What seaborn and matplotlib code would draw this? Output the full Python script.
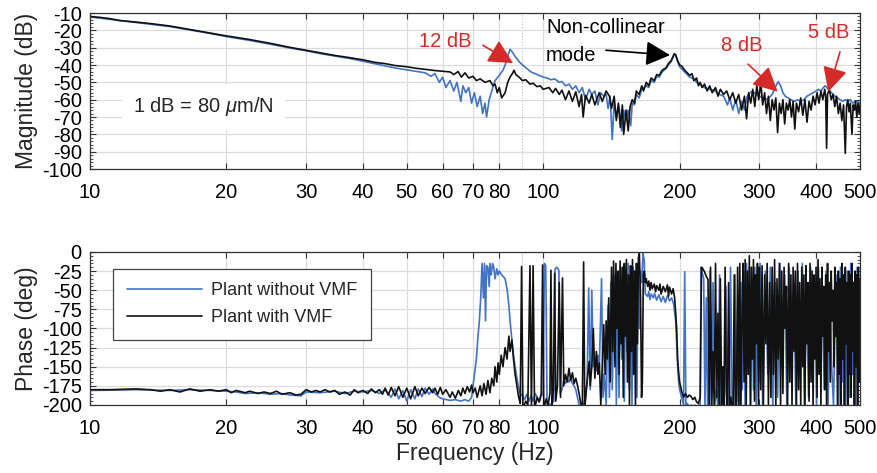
import matplotlib
matplotlib.use("Agg")
import matplotlib.pyplot as plt
import seaborn as sns
from matplotlib.ticker import FixedLocator, FixedFormatter, MultipleLocator, NullLocator

# ---------------- data (frequency Hz, value) ----------------
mag_blue = [
    (10, -12.3), (12.6, -15.4), (15, -17.8), (16.6, -19.8), (18.4, -21.8), (20, -23.6),
    (22.5, -25.8), (25, -28), (27.6, -30.2), (30, -31.8), (32.2, -33.4), (34.7, -34.8),
    (37.5, -36.3), (40, -37.8), (42.6, -39.3), (44.8, -40.5), (47.1, -41.7), (50, -42.8),
    (52.1, -43.5), (54.9, -44.5), (56.5, -46.5), (57.7, -45), (59, -50), (60, -47),
    (61, -53), (62.3, -49), (63.5, -55), (64.5, -50), (65.8, -61), (66.5, -52), (67.5, -56),
    (68.5, -53), (69.5, -62), (70.5, -56), (71.5, -64), (72.6, -58), (73.5, -68), (74.4, -62),
    (75, -70), (76, -60), (77, -55), (78.3, -49), (80, -46), (81.5, -43), (82.4, -40),
    (83.5, -35), (84.5, -31), (85.5, -32.5), (86.7, -35), (88.8, -38.5), (90, -40), (92, -42),
    (94, -44), (96.9, -45.5), (100, -47), (102, -47.5), (104, -48.5), (106, -48), (108.5, -50),
    (110, -49.5), (112, -52), (114, -51), (116, -54), (118, -52), (120, -56), (122, -53),
    (124, -60), (126.3, -54), (128, -57), (130, -55), (132, -63), (134, -56), (136, -58),
    (137.7, -57), (139, -65), (140.5, -58), (142, -83), (143.4, -62), (145, -70), (147, -64),
    (149, -78), (150.5, -66), (152.4, -72), (154, -66), (156, -75), (157.2, -62), (159, -63),
    (160.5, -57), (162.8, -59), (165, -54), (168.8, -52), (171, -53), (173, -49), (175.8, -50),
    (178, -46.5), (180.3, -47), (183, -44), (186.8, -42), (189, -40), (191.6, -38), (194.6, -34),
    (196, -34.5), (198, -38), (200, -41), (205.2, -44), (210.5, -47), (215, -48), (218, -50),
    (222, -51), (227, -53), (233, -54), (240, -55), (245, -57), (250, -58), (255, -63),
    (258, -59), (262, -66), (266, -60), (270, -68), (274, -61), (278, -66), (282, -58),
    (286, -56), (290, -55), (295, -57), (300, -58), (305, -59), (310, -60), (315, -59),
    (320, -57), (325, -53), (330, -49.5), (334, -52), (338, -56), (342, -58), (347, -59),
    (352, -60), (358, -61), (364, -60), (370, -61), (376, -60), (382, -58), (388, -57),
    (394, -56), (400, -55), (405, -54), (410, -55), (415, -53), (419, -52), (423, -53),
    (428, -55), (433, -56), (440, -58), (446, -59), (452, -60), (458, -61), (464, -60),
    (470, -61), (476, -60), (482, -62), (488, -61), (494, -61), (500, -62),
]

mag_black = [
    (10, -12), (10.5, -12.5), (11.1, -13.3), (11.6, -14.3), (12.6, -15.2), (13.6, -16.1),
    (15.0, -17.5), (16.6, -19.5), (18.4, -21.5), (20, -23.2), (22.5, -25.3), (25, -27.5),
    (27.6, -29.8), (30, -31.5), (32.2, -33), (34.7, -34.5), (37.5, -35.8), (40, -37),
    (42.6, -38.5), (44.8, -39.2), (47.1, -40.3), (50, -41), (52.1, -41.8), (54.9, -42.5),
    (57.7, -43.2), (60, -43.6), (62.3, -44), (63.5, -45.5), (64.9, -43.8), (66, -47),
    (67.2, -44.5), (68.5, -47.5), (70, -46.5), (71.2, -49), (72.6, -48), (74.4, -50),
    (76.3, -49), (77.5, -52), (78.3, -51), (79.2, -56), (80, -53), (81, -59), (82.4, -56),
    (83.5, -50), (84.5, -47), (85.5, -45), (86.2, -43), (87, -45.5), (88.5, -47), (90, -49),
    (91.5, -48.5), (93.5, -51), (95, -50.5), (96.9, -52.5), (98.5, -52), (100, -54), (103, -53),
    (105, -56), (106.5, -53.5), (108.5, -57), (110, -54.5), (112, -60), (114, -55), (116, -61),
    (118, -55.5), (120, -64), (121.5, -57), (122.5, -70), (124, -57.5), (126.3, -62), (128, -57),
    (130, -63), (132.9, -56), (135, -61), (137.7, -55), (140, -58), (141.5, -65), (143.4, -58),
    (145, -72), (146.5, -62), (148, -76), (149.5, -63), (150.5, -80), (152.4, -66), (154, -78),
    (155.5, -64), (157.2, -60), (159, -62), (160.5, -55), (162.8, -57), (165, -52), (166.5, -55),
    (168.8, -50), (171, -52), (173, -47.5), (175.8, -49), (178, -45.5), (180.3, -46), (183, -43),
    (186.8, -41.5), (189, -39), (191.6, -37.5), (194.6, -33.5), (196, -34), (198, -37.5),
    (200, -40), (202, -40.5), (205.2, -43), (207, -44), (210.5, -46), (213, -45), (215, -49),
    (218, -47.5), (220, -52), (222, -50), (224.2, -53), (227, -51), (230, -55), (233, -52),
    (236, -56), (240, -53), (243, -58), (246, -54), (250, -57), (254, -55), (258, -60),
    (262, -56), (266, -62), (270, -57), (274, -66), (278, -58), (281, -71), (284, -56),
    (287, -62), (290, -54), (293, -64), (296, -52), (299, -60), (302, -50), (305, -63),
    (308, -56), (311, -68), (314, -58), (317, -72), (320, -60), (323, -66), (326, -59),
    (329, -79), (332, -62), (335, -68), (338, -60), (341, -74), (344, -62), (347, -66),
    (350, -60), (353, -70), (356, -61), (359, -77), (362, -62), (366, -67), (370, -59),
    (374, -69), (378, -60), (382, -73), (386, -61), (390, -66), (394, -58), (398, -63),
    (402, -56), (406, -62), (410, -55), (414, -60), (418, -54), (420, -58), (422, -88),
    (424, -57), (428, -54), (432, -60), (436, -57), (440, -64), (444, -58), (448, -68),
    (452, -62), (456, -72), (460, -63), (464, -91), (467, -64), (470, -60), (473, -67),
    (476, -62), (480, -80), (483, -63), (486, -66), (489, -61), (492, -70), (495, -62),
    (498, -68), (500, -63),
]

phase_blue = [
    (10, -181), (12.6, -180), (15, -181), (16.6, -180), (18.4, -181), (20, -182), (21, -183),
    (22, -185), (23.5, -184), (25, -186), (26.5, -185), (27.6, -187), (29.2, -188), (30, -183),
    (32.2, -184), (34.7, -182), (36.5, -185), (38.3, -182), (40, -183), (41.8, -181), (43.5, -185),
    (44.8, -180), (46.2, -190), (47.1, -179), (48, -192), (49, -181), (50, -195), (51, -180),
    (52.1, -192), (53, -179), (54, -189), (54.9, -178), (56, -186), (57, -179), (57.7, -185),
    (59, -190), (60, -192), (62.3, -194), (64, -193), (65.8, -195), (67.2, -193), (68.5, -195),
    (69.5, -190), (70, -175), (70.5, -160), (71.2, -140), (71.8, -110), (72.3, -90), (72.8, -60),
    (73.3, -15), (73.8, -60), (74.2, -15), (74.6, -90), (75, -18), (75.5, -20), (76, -45),
    (76.3, -15), (76.8, -30), (77.3, -15), (77.8, -20), (78.3, -35), (79, -22), (79.5, -30),
    (80, -25), (81, -30), (82.4, -35), (83.3, -50), (84, -70), (84.5, -90), (85.3, -115),
    (86, -135), (86.7, -150), (87.5, -165), (88.3, -178), (89, -185), (90, -188), (91, -193),
    (92, -186), (93, -195), (94, -188), (95, -195), (96, -185), (97, -190), (98, -196),
    (99, -188), (100, -185), (100.6, -15), (101.3, -18), (102, -205), (103, -198), (104, -200),
    (105.5, -195), (106.2, -22), (107.2, -20), (108.3, -24), (109, -185), (110, -180),
    (111, -168), (112, -172), (113, -166), (114, -170), (115, -165), (116, -172), (117, -175),
    (118, -180), (119, -190), (120, -200), (121, -205), (122.5, -200), (124, -190), (125, -170),
    (126, -47), (127, -180), (128, -50), (129, -150), (130, -140), (131, -155), (132, -135),
    (133, -150), (134.5, -35), (135.5, -190), (136.5, -160), (137.7, -200), (139, -70),
    (140, -190), (141, -40), (142, -180), (143, -100), (144, -30), (145, -200), (146, -60),
    (147, -190), (148, -20), (149, -140), (150, -35), (151, -195), (152, -25), (153, -130),
    (154, -15), (155, -180), (156, -40), (157, -200), (158, -20), (159, -150), (160, -30),
    (161, -190), (162, -15), (163, -100), (164, -25), (165, -40), (166, -2), (167, -10),
    (168, -55), (170, -58), (171, -52), (172, -62), (173, -55), (175, -60), (176, -54),
    (178, -63), (180, -56), (182, -65), (184, -58), (186, -66), (188, -57), (190, -64),
    (192, -60), (194, -68), (196, -90), (197, -120), (198, -150), (199, -170), (200, -180),
    (202, -190), (204, -200), (205.2, -26), (206.5, -205), (208, -198), (210, -203), (212, -200),
    (214, -205), (216, -200), (218, -205), (220, -200), (222, -203), (223, -20), (224.5, -28),
    (226, -35), (227.5, -205), (229, -60), (230.5, -200), (232, -205), (233.5, -25), (235, -205),
    (237, -40), (239, -200), (241, -180), (243, -205), (245, -30), (247, -205), (249, -190),
    (251, -205), (253, -45), (255, -200), (257, -205), (259, -20), (261, -190), (263, -205),
    (265, -30), (267, -200), (269, -60), (271, -205), (273, -40), (275, -180), (277, -25),
    (279, -205), (281, -15), (283, -150), (285, -20), (287, -200), (289, -35), (291, -180),
    (293, -20), (295, -205), (297, -40), (299, -170), (301, -15), (305, -200), (309, -25),
    (313, -160), (317, -20), (321, -205), (325, -40), (329, -190), (333, -15), (337, -130),
    (341, -30), (345, -205), (349, -20), (353, -170), (357, -40), (361, -200), (365, -25),
    (369, -150), (373, -15), (377, -205), (381, -50), (385, -190), (389, -20), (393, -120),
    (397, -35), (401, -200), (405, -20), (409, -140), (413, -60), (417, -180), (421, -25),
    (425, -205), (429, -70), (433, -150), (437, -200), (441, -90), (445, -30), (449, -205),
    (453, -20), (457, -170), (461, -40), (465, -205), (469, -25), (473, -190), (477, -15),
    (481, -160), (485, -40), (489, -205), (493, -20), (497, -120), (500, -60),
]

phase_black = [
    (10, -180), (11.1, -180), (12.6, -179), (13.6, -180), (14.3, -182), (15, -180), (15.8, -183),
    (16.6, -179), (17.5, -182), (18.4, -180), (19.2, -182), (20, -180), (20.5, -184), (21, -181),
    (22, -184), (22.5, -182), (23.5, -185), (24.2, -183), (25, -185), (25.8, -182), (26.5, -186),
    (27.6, -184), (28.5, -187), (29.2, -186), (30, -180), (30.8, -183), (31.5, -181), (32.2, -183),
    (33, -180), (33.8, -183), (34.7, -181), (35.5, -186), (36.5, -183), (37.5, -187), (38.3, -180),
    (39, -184), (40, -181), (41, -185), (41.8, -179), (42.6, -184), (43.5, -180), (44.2, -186),
    (44.8, -178), (45.5, -187), (46.2, -177), (47.1, -188), (48, -176), (49, -190), (50, -178),
    (51, -192), (52.1, -176), (53, -188), (54, -178), (54.9, -185), (56, -177), (57, -184),
    (57.7, -178), (58.5, -186), (59.3, -177), (60, -186), (61, -180), (62.3, -190), (63, -183),
    (64, -191), (65, -181), (65.8, -188), (66.5, -178), (67.2, -185), (68, -176), (68.8, -183),
    (69.5, -174), (70, -184), (70.8, -178), (71.5, -190), (72.6, -175), (73.3, -188), (74, -172),
    (74.8, -186), (75.5, -168), (76.3, -184), (77, -165), (77.8, -175), (78.3, -150), (79, -170),
    (79.5, -145), (80, -160), (80.8, -135), (81.5, -150), (82.4, -125), (83.2, -140), (84, -110),
    (84.5, -130), (85.3, -115), (86, -140), (86.7, -160), (87.5, -175), (88.3, -190), (89, -198),
    (89.6, -19), (90.2, -205), (91.5, -195), (92.5, -200), (93.5, -18), (94.2, -205), (95, -18),
    (95.7, -205), (97, -190), (98, -196), (99, -185), (99.7, -17), (100.3, -205), (101.5, -192),
    (102.5, -200), (103.5, -185), (104, -24), (104.6, -200), (105.3, -180), (106, -28),
    (106.6, -195), (107.5, -175), (108.5, -40), (109.2, -190), (110.3, -34), (111, -175),
    (112, -160), (113, -170), (114, -152), (115, -168), (116, -158), (117, -172), (118, -165),
    (119, -174), (120, -185), (121, -198), (122, -205), (122.8, -13), (123.5, -205), (124.5, -180),
    (125.5, -160), (126.3, -143), (127, -175), (128, -150), (129, -100), (130, -165), (131, -130),
    (132, -160), (133, -145), (134, -200), (135, -150), (136, -95), (137, -160), (137.7, -90),
    (138.5, -140), (139.5, -60), (140.5, -170), (141.5, -20), (142.3, -130), (143, -12),
    (144, -150), (144.7, -15), (145.5, -100), (146.3, -25), (147, -160), (147.8, -12),
    (148.6, -120), (149.4, -20), (150.2, -190), (151, -15), (151.8, -110), (152.6, -10),
    (153.4, -170), (154.2, -30), (155, -200), (155.8, -18), (156.6, -130), (157.4, -10),
    (158.2, -160), (159, -25), (159.8, -205), (160.6, -15), (161.4, -120), (162.2, -8), (163, -2),
    (164, -60), (164.8, -190), (165.5, -170), (166.3, -30), (167.2, -25), (168, -40), (168.8, -35),
    (170, -45), (171, -38), (172, -50), (173, -40), (174, -48), (175.8, -42), (177, -52),
    (178, -44), (180, -50), (181, -42), (182, -55), (184, -45), (186, -52), (188, -43), (189, -58),
    (190, -46), (192, -55), (193.5, -48), (195, -60), (196, -80), (197, -100), (198, -140),
    (199, -158), (200, -170), (202, -182), (204, -190), (206, -185), (208, -190), (210, -187),
    (212, -189), (214, -193), (216, -190), (218, -196), (220, -198), (222, -190), (223.5, -20),
    (225, -22), (227, -26), (229, -32), (231, -36), (232.5, -205), (234, -20), (235.5, -200),
    (237, -130), (238.5, -205), (240, -15), (241.5, -190), (243, -80), (244.5, -205), (246, -35),
    (247.5, -200), (249, -150), (250.5, -205), (252, -20), (253.5, -180), (255, -205), (256.5, -40),
    (258, -200), (259.5, -190), (261, -205), (262.5, -200), (264, -30), (265.5, -205), (267, -195),
    (268.5, -20), (270, -200), (271.5, -15), (273, -205), (274.5, -90), (276, -15), (277.5, -170),
    (279, -10), (280.5, -200), (282, -25), (283.5, -160), (285, -5), (286.5, -205), (288, -20),
    (289.5, -140), (291, -10), (292.5, -195), (294, -30), (295.5, -120), (297, -15), (298.5, -205),
    (300, -20), (302, -180), (304, -18), (306, -205), (308, -30), (310, -120), (312, -15),
    (314, -200), (316, -40), (318, -190), (320, -20), (322, -160), (324, -10), (326, -205),
    (328, -35), (330, -140), (332, -15), (334, -200), (336, -25), (338, -185), (340, -20),
    (342, -100), (344, -45), (346, -205), (348, -15), (350, -170), (352, -30), (354, -200),
    (356, -20), (358, -130), (360, -25), (362, -205), (364, -15), (366, -180), (368, -40),
    (370, -200), (372, -20), (374, -150), (376, -30), (378, -205), (380, -18), (382, -120),
    (384, -40), (386, -195), (388, -15), (390, -170), (392, -25), (394, -205), (396, -30),
    (398, -140), (400, -20), (402, -190), (404, -10), (406, -160), (408, -35), (410, -200),
    (412, -20), (414, -110), (416, -45), (418, -180), (420, -30), (422, -205), (424, -15),
    (426, -130), (428, -40), (430, -170), (432, -25), (434, -90), (436, -50), (438, -150),
    (440, -20), (442, -110), (444, -40), (446, -200), (448, -25), (450, -160), (452, -35),
    (454, -205), (456, -15), (458, -140), (460, -30), (462, -200), (464, -20), (466, -120),
    (468, -40), (470, -205), (472, -25), (474, -160), (476, -30), (478, -190), (480, -15),
    (482, -130), (484, -40), (486, -205), (488, -25), (490, -150), (492, -30), (494, -200),
    (496, -20), (498, -170), (500, -35),
]

freq_ticks = [10, 20, 30, 40, 50, 60, 70, 80, 100, 200, 300, 400, 500]
freq_labels = ["10", "20", "30", "40", "50", "60", "70", "80", "100", "200", "300", "400", "500"]
mag_ticks = [-10, -20, -30, -40, -50, -60, -70, -80, -90, -100]
phase_ticks = [0, -25, -50, -75, -100, -125, -150, -175, -200]
series_names = ["Plant without VMF", "Plant with VMF"]

# ---------------- style ----------------
sns.set_style("ticks")
plt.rcParams['font.family'] = ['Liberation Sans', 'DejaVu Sans']
plt.rcParams['axes.unicode_minus'] = False
plt.rcParams['mathtext.fontset'] = 'custom'
plt.rcParams['mathtext.rm'] = 'Liberation Sans'
plt.rcParams['mathtext.it'] = 'Liberation Sans:italic'

BLUE = '#4472C4'
BLACK = '#111111'
RED = '#d42a2a'
GRID = '#dcdcdc'
AXC = '#333333'

fig = plt.figure(figsize=(8.77, 4.73), dpi=100)
ax1 = fig.add_axes([0.1026, 0.6427, 0.878, 0.3298])
ax2 = fig.add_axes([0.1026, 0.1438, 0.878, 0.3235])


def unzip(pts):
    return [p[0] for p in pts], [p[1] for p in pts]


fb, vb = unzip(mag_blue)
fk, vk = unzip(mag_black)
sns.lineplot(x=fb, y=vb, ax=ax1, color=BLUE, lw=1.2, estimator=None, sort=False, legend=False)
sns.lineplot(x=fk, y=vk, ax=ax1, color=BLACK, lw=1.2, estimator=None, sort=False, legend=False)

fb, vb = unzip(phase_blue)
fk, vk = unzip(phase_black)
sns.lineplot(x=fb, y=vb, ax=ax2, color=BLUE, lw=1.2, estimator=None, sort=False, label=series_names[0])
sns.lineplot(x=fk, y=vk, ax=ax2, color=BLACK, lw=1.2, estimator=None, sort=False, label=series_names[1])


for ax, yt, ylim, yminor in ((ax1, mag_ticks, (-100, -10), 2), (ax2, phase_ticks, (-200, 0), 5)):
    ax.set_xscale('log')
    ax.set_xlim(10, 500)
    ax.set_ylim(*ylim)
    ax.xaxis.set_major_locator(FixedLocator(freq_ticks))
    ax.xaxis.set_major_formatter(FixedFormatter(freq_labels))
    ax.xaxis.set_minor_locator(NullLocator())
    ax.yaxis.set_major_locator(FixedLocator(yt))
    ax.yaxis.set_major_formatter(FixedFormatter([str(v) for v in yt]))
    ax.yaxis.set_minor_locator(MultipleLocator(yminor))
    ax.grid(True, which='major', color=GRID, lw=0.9)
    ax.set_axisbelow(True)
    ax.tick_params(which='both', direction='in', top=True, right=True, colors=AXC,
                   labelcolor='black', labelsize=14.5)
    ax.tick_params(which='major', length=4, width=0.8)
    ax.tick_params(which='minor', length=2, width=0.6)
    ax.tick_params(axis='x', pad=10)
    ax.tick_params(axis='y', pad=6)
    for s in ax.spines.values():
        s.set_visible(True)
        s.set_color(AXC)
        s.set_linewidth(0.9)
    ax.yaxis.set_label_coords(-0.067, 0.5)

ax1.axvline(90, color='#bbbbbb', lw=0.8, ls=':', zorder=0)
ax2.axvline(90, color=GRID, lw=0.9, zorder=0)

ax1.set_xlabel('')
ax1.set_ylabel('Magnitude (dB)', fontsize=16.5)
ax2.set_ylabel('Phase (deg)', fontsize=16.5)
ax2.set_xlabel('Frequency (Hz)', fontsize=16.5, labelpad=3)

# annotations
ax1.text(12.44, -64.2, '1 dB = 80 $\\mu$m/N', fontsize=14.5, va='center', ha='left',
         bbox=dict(facecolor='white', edgecolor='none', pad=8))

arrow_red = dict(arrowstyle='-|>,head_length=0.75,head_width=0.38', color=RED, lw=1.2,
                 mutation_scale=20, shrinkA=0, shrinkB=0)
arrow_blk = dict(arrowstyle='-|>,head_length=0.75,head_width=0.38', color='black', lw=1.2,
                 mutation_scale=20, shrinkA=0, shrinkB=0)
ax1.text(60.7, -26.3, '12 dB', color=RED, fontsize=14.5, ha='center', va='center')
ax1.annotate('', xy=(85.8, -38.9), xytext=(73.6, -28.6), arrowprops=arrow_red)
ax1.text(101.5, -26.5, 'Non-collinear\nmode', color='black', fontsize=14.5, ha='left',
         va='center', linespacing=1.55)
ax1.annotate('', xy=(190.5, -34.3), xytext=(137.5, -31.5), arrowprops=arrow_blk)
ax1.text(274, -28.6, '8 dB', color=RED, fontsize=14.5, ha='center', va='center')
ax1.annotate('', xy=(329, -55.4), xytext=(283, -39.5), arrowprops=arrow_red)
ax1.text(425.7, -21, '5 dB', color=RED, fontsize=14.5, ha='center', va='center')
ax1.annotate('', xy=(425.7, -55.4), xytext=(451.7, -32.4), arrowprops=arrow_red)

leg = ax2.legend(loc='upper left', bbox_to_anchor=(0.03, 0.889), borderaxespad=0,
                 fontsize=13, handlelength=4.2, handletextpad=0.5, borderpad=0.75,
                 labelspacing=0.55, frameon=True, fancybox=False, framealpha=1)
leg.get_frame().set_edgecolor('#444444')
leg.get_frame().set_linewidth(0.9)

fig.savefig('out.png', dpi=100)
